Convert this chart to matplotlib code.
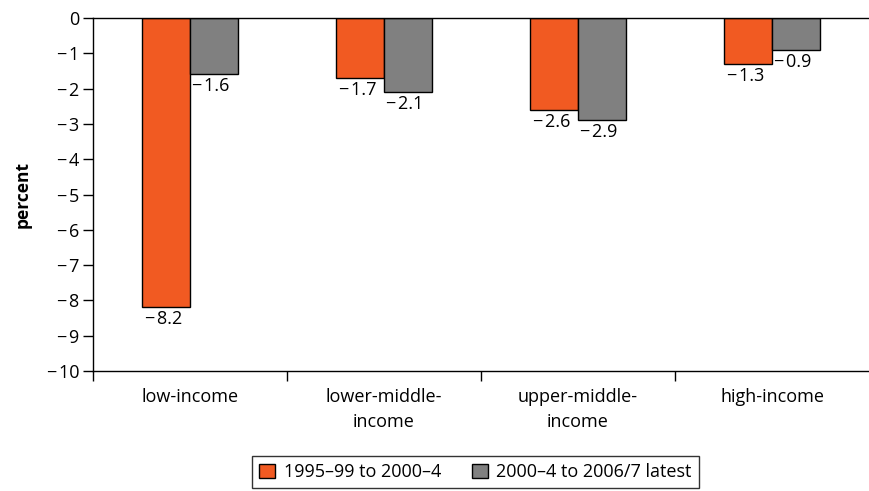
import matplotlib
matplotlib.use("Agg")
import matplotlib.pyplot as plt
from matplotlib.patches import Patch
import numpy as np

plt.rcParams['font.family'] = ['Open Sans', 'DejaVu Sans']

categories = ["low-income", "lower-middle-\nincome", "upper-middle-\nincome", "high-income"]
series_names = ["1995\u201399 to 2000\u20134", "2000\u20134 to 2006/7 latest"]
early_change = [-8.2, -1.7, -2.6, -1.3]
late_change = [-1.6, -2.1, -2.9, -0.9]
y_ticks = [0, -1, -2, -3, -4, -5, -6, -7, -8, -9, -10]

orange = "#F15A22"
grey = "#808080"
fs = 13
MINUS = "\u2212\u200a"

fig = plt.figure(figsize=(8.69, 4.91), dpi=100)
ax = fig.add_axes([93 / 869, 1 - 371 / 491, 1 - 93 / 869, (371 - 18) / 491])

x = np.arange(len(categories))
w = 0.247
b1 = ax.bar(x - w / 2, early_change, width=w, color=orange, edgecolor="black", linewidth=1.0)
b2 = ax.bar(x + w / 2, late_change, width=w, color=grey, edgecolor="black", linewidth=1.0)

def fmt(v):
    return MINUS + f"{abs(v):.1f}" if v < 0 else f"{v:.1f}"

for bars, vals in ((b1, early_change), (b2, late_change)):
    for rect, v in zip(bars, vals):
        ax.annotate(fmt(v), (rect.get_x() + rect.get_width() / 2, v),
                    xytext=(-2, -2), textcoords="offset points",
                    ha="center", va="top", fontsize=fs)

ax.set_xlim(-0.5, len(categories) - 0.5)
ax.set_ylim(-10, 0)
ax.set_yticks(y_ticks)
ax.set_yticklabels([(MINUS + str(abs(t))) if t < 0 else "0" for t in y_ticks], fontsize=fs)

ax.set_xticks(x)
ax.set_xticklabels(categories, fontsize=fs, linespacing=1.5)
ax.set_xticks(np.arange(len(categories)) - 0.5, minor=True)
ax.tick_params(axis="x", which="major", length=0, pad=12)
ax.tick_params(axis="x", which="minor", length=7, width=1.0, direction="out")
ax.tick_params(axis="y", length=7, width=1.0, direction="out", pad=3)

for side in ("top", "bottom", "left"):
    ax.spines[side].set_linewidth(1.0)
    ax.spines[side].set_color("black")
ax.spines["right"].set_visible(False)

ax.set_ylabel("percent", fontsize=12.5, fontweight="bold", labelpad=11)

handles = [Patch(facecolor=orange, edgecolor="black", linewidth=1.0),
           Patch(facecolor=grey, edgecolor="black", linewidth=1.0)]
leg = fig.legend(handles, series_names, loc="upper left",
                 bbox_to_anchor=(252 / 869, 1 - 456 / 491), ncol=2,
                 fontsize=fs, frameon=True, fancybox=False, edgecolor="black",
                 handlelength=0.9, handleheight=0.9, handletextpad=0.45,
                 columnspacing=1.7, borderpad=0.4, borderaxespad=0)
leg.get_frame().set_linewidth(1.0)

fig.savefig("out.png", dpi=100)
